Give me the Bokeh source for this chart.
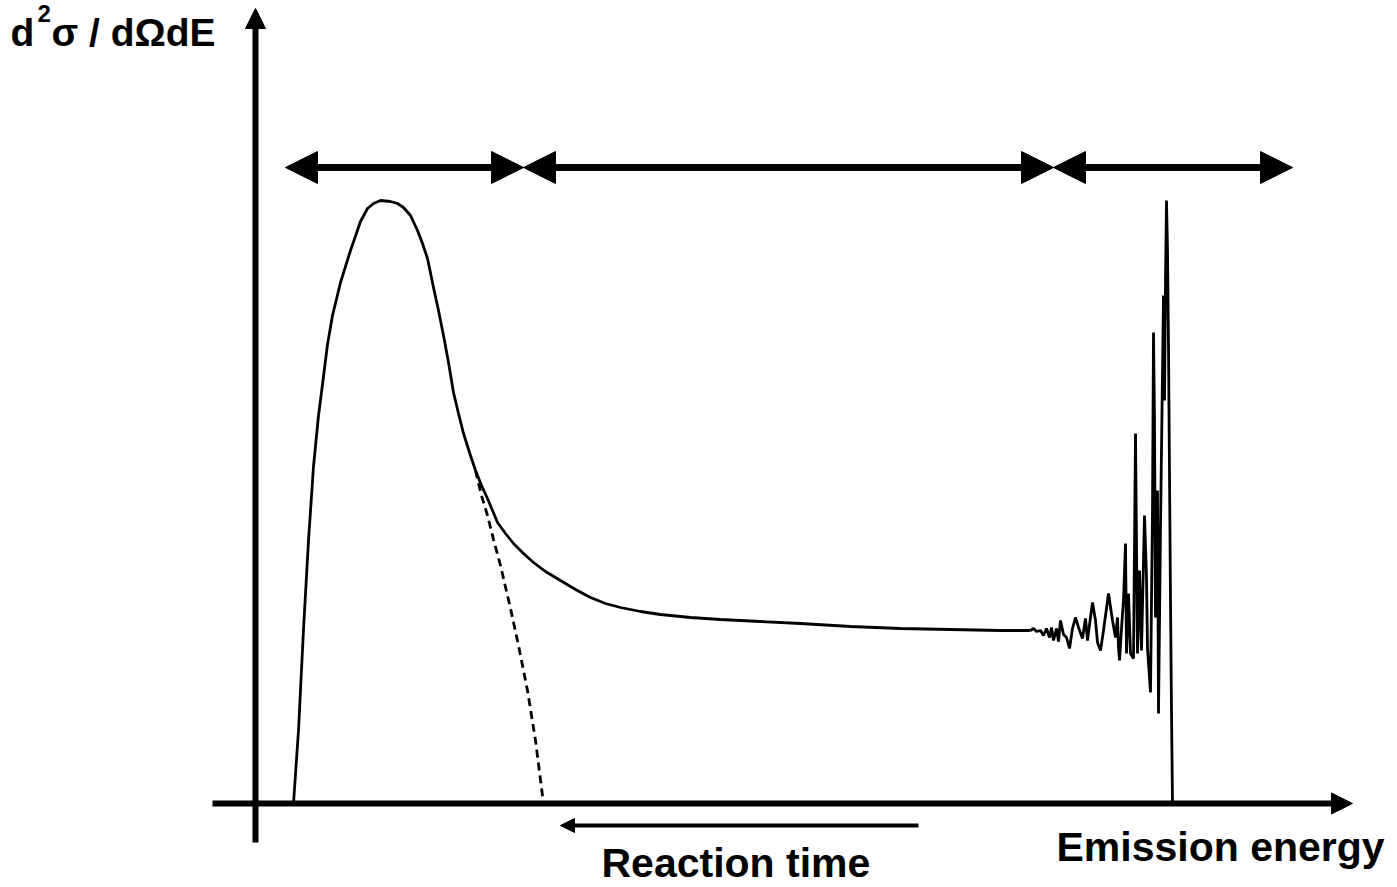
from bokeh.plotting import figure
from bokeh.models import Range1d, Arrow, NormalHead, Label
from bokeh.embed import file_html
from bokeh.resources import INLINE

# Schematic double-differential spectrum (arbitrary units)
# Main spectrum: evaporation peak followed by pre-equilibrium tail
energy_main = [3.8, 4.3, 4.8, 5.3, 5.8, 6.3, 6.7, 7.2, 7.7, 8.5, 9.5, 10.5, 11.2,
               11.8, 12.5, 13.5, 14.2, 14.8, 15.5, 16.2, 16.7, 17.2, 17.8, 18.3,
               18.8, 19.3, 19.8, 20.3, 20.8, 21.4, 22.0, 22.6, 23.2, 23.7, 24.2,
               25.0, 25.8, 26.8, 27.8, 29.0, 30.5, 32.0, 33.5, 35.0, 36.5, 38.5,
               40.5, 43.5, 46.5, 50.5, 54.5, 59.5, 64.5, 69.5, 74.5, 77.5]
sigma_main = [0.0, 7.3, 17.4, 26.3, 33.7, 38.8, 41.9, 45.9, 48.8, 52.1, 55.3, 58.2,
              59.5, 60.0, 60.3, 60.2, 60.0, 59.6, 58.8, 57.3, 56.0, 54.5, 51.6,
              49.3, 46.8, 44.1, 41.1, 39.0, 37.0, 35.1, 33.3, 31.8, 30.5, 29.3,
              28.1, 27.0, 26.0, 25.0, 24.1, 23.2, 22.3, 21.4, 20.6, 20.0, 19.6,
              19.2, 18.9, 18.6, 18.4, 18.2, 18.0, 17.7, 17.5, 17.4, 17.3, 17.3]

# Evaporation (equilibrium) component continued below the tail
energy_evap = [22.0, 22.6, 23.2, 23.8, 24.5, 25.5, 26.3, 27.2, 28.0, 28.8]
sigma_evap = [33.3, 30.8, 28.8, 26.4, 23.8, 19.5, 15.8, 11.3, 6.3, 0.0]

# Discrete-level region near the end point
energy_levels = [77.5, 77.8, 78.1, 78.5, 78.8, 79.1, 79.4, 79.6, 79.8, 80.1, 80.3,
                 80.5, 80.8, 81.1, 81.4, 81.7, 82.0, 82.3, 82.7, 83.0, 83.2, 83.3,
                 83.7, 84.0, 84.2, 84.5, 84.8, 85.3, 85.7, 86.0, 86.2, 86.3, 86.4,
                 86.7, 86.8, 87.0, 87.1, 87.3, 87.5, 87.8, 88.0, 88.2, 88.4, 88.6,
                 88.9, 89.1, 89.2, 89.5, 89.7, 89.8, 89.9, 90.0, 90.2, 90.3, 90.5,
                 90.7, 90.8, 90.9, 91.0, 91.1, 91.2, 91.3, 91.5, 91.6, 91.7]
sigma_levels = [17.3, 17.5, 17.2, 17.3, 16.8, 17.5, 16.6, 17.6, 16.3, 17.5, 16.2,
                18.3, 16.9, 16.6, 15.5, 17.5, 18.6, 17.6, 16.5, 18.5, 16.3, 17.1,
                20.1, 18.3, 16.1, 15.3, 17.3, 21.0, 18.3, 16.6, 18.6, 15.6, 14.3,
                19.0, 20.3, 26.0, 15.0, 21.0, 15.0, 14.5, 37.0, 15.0, 23.3, 15.3,
                28.8, 22.6, 15.5, 11.1, 29.3, 47.1, 38.3, 18.6, 31.3, 9.0, 27.6,
                43.0, 50.8, 40.3, 52.3, 60.3, 55.3, 45.8, 20.3, 9.3, 0.0]

# Region boundaries shown by the double arrows along the top
region_edges = [3.0, 26.8, 79.8, 103.7]
region_level = 63.6

p = figure(width=1397, height=887,
           x_range=Range1d(-25.5, 114.2), y_range=Range1d(-8.4, 80.3),
           x_axis_type=None, y_axis_type=None,
           output_backend="svg", toolbar_location=None, min_border=0)
p.grid.visible = False
p.outline_line_color = None
p.background_fill_color = "white"
p.border_fill_color = "white"

ink = "black"

# Spectrum curves
p.line(energy_main, sigma_main, line_color=ink, line_width=2.8)
p.line(energy_evap, sigma_evap, line_color=ink, line_width=2.8, line_dash="8 5")
p.line(energy_levels, sigma_levels, line_color=ink, line_width=2.8)


def head(size):
    return NormalHead(size=size, fill_color=ink, line_color=ink, line_width=1)


# Hand-drawn style axes with arrow heads
p.add_layout(Arrow(x_start=0, y_start=-3.9, x_end=0, y_end=79.5,
                   line_width=6, line_color=ink, end=head(20)))
p.add_layout(Arrow(x_start=-4.3, y_start=0, x_end=109.7, y_end=0,
                   line_width=6, line_color=ink, end=head(21)))

# Double arrows marking the three emission regions
for a, b in zip(region_edges[:-1], region_edges[1:]):
    p.add_layout(Arrow(x_start=a, y_start=region_level, x_end=b, y_end=region_level,
                       line_width=7, line_color=ink, start=head(32), end=head(32)))

# Reaction-time arrow below the energy axis
p.add_layout(Arrow(x_start=66.3, y_start=-2.2, x_end=30.5, y_end=-2.2,
                   line_width=4, line_color=ink, end=head(14)))

font = "Liberation Sans"


def label(x, y, text, size):
    p.add_layout(Label(x=x, y=y, text=text, text_font=font, text_font_size=size,
                       text_font_style="bold", text_color=ink,
                       text_align="left", text_baseline="alphabetic"))


label(34.6, -5.9, "Reaction time", "41px")
label(80.1, -4.3, "Emission energy", "41px")

# Y-axis quantity: d²σ / dΩdE
label(-24.5, 77.1, "d", "39px")
label(-21.8, 79.0, "2", "24px")
label(-20.4, 77.1, "σ / dΩdE", "39px")

open("out.html", "w").write(file_html(p, INLINE))
